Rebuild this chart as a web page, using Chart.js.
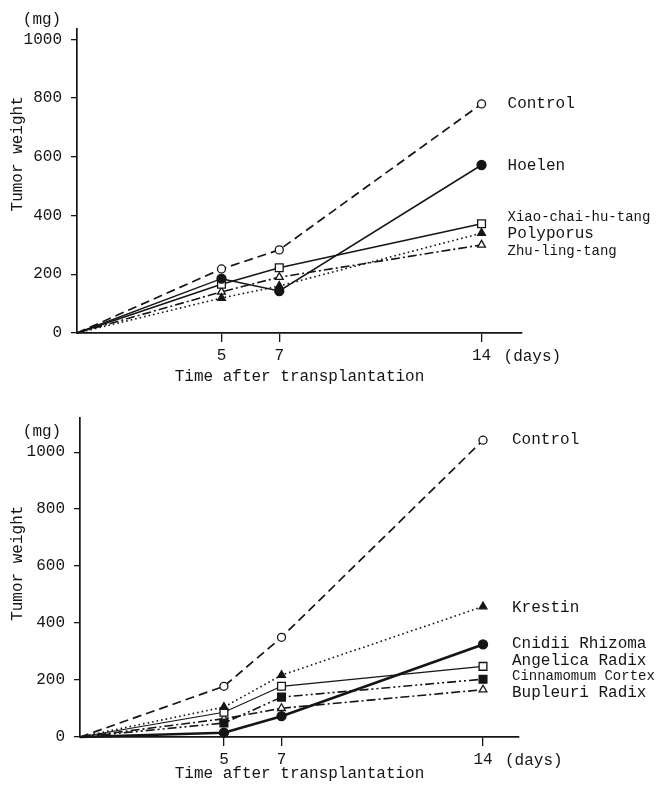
<!DOCTYPE html>
<html>
<head>
<meta charset="utf-8">
<script src="https://cdn.jsdelivr.net/npm/chart.js@4.4.1/dist/chart.umd.min.js"></script>
<style>
  body { margin: 0; background: #fff; }
  canvas { position: absolute; left: 0; }
</style>
</head>
<body>
<canvas id="upper" width="657" height="395" style="top:0"></canvas>
<canvas id="lower" width="657" height="394" style="top:395px"></canvas>
<script>
// days after transplantation
const days = [0, 5, 7, 14];
const xTicks = [5, 7, 14];
const yTicks = [0, 200, 400, 600, 800, 1000];

// upper panel (mg)
const upperNames = ['Control', 'Hoelen', 'Xiao-chai-hu-tang', 'Polyporus', 'Zhu-ling-tang'];
const upperControl = [0, 218, 283, 780];
const upperHoelen = [0, 185, 143, 572];
const upperXiao = [0, 166, 222, 372];
const upperPolyporus = [0, 119, 160, 340];
const upperZhu = [0, 140, 190, 300];

// lower panel (mg)
const lowerNames = ['Control', 'Krestin', 'Cnidii Rhizoma', 'Angelica Radix', 'Cinnamomum Cortex', 'Bupleuri Radix'];
const lowerControl = [0, 178, 350, 1042];
const lowerKrestin = [0, 105, 217, 458];
const lowerCnidii = [0, 15, 73, 325];
const lowerAngelica = [0, 87, 178, 248];
const lowerCinnamomum = [0, 49, 140, 203];
const lowerBupleuri = [0, 64, 101, 166];

const FONT = '"Liberation Mono", "DejaVu Sans Mono", monospace';
const INK = '#151515';

// line looks
const DASH = [9, 5];
const DOT = [1.6, 3];
const DASHDOT = [9, 3, 2, 3];
const DASHDOTDOT = [9, 3, 2, 3, 2, 3];

function series(label, vals, o) {
  return {
    label: label,
    data: days.map((d, i) => ({ x: d, y: vals[i] })),
    borderColor: INK,
    borderWidth: o.w || 1.5,
    borderDash: o.dash || [],
    pointStyle: o.shape,
    pointRadius: ctx => ctx.dataIndex === 0 ? 0 : (o.r || 4.5),
    pointBackgroundColor: o.filled ? INK : '#fff',
    pointBorderColor: INK,
    pointBorderWidth: 1.3,
    tension: 0,
    clip: false
  };
}

const notes = {
  id: 'notes',
  afterDraw(chart, args, opts) {
    const { ctx, scales: { x, y } } = chart;
    ctx.save();
    ctx.fillStyle = INK;
    ctx.textBaseline = 'middle';
    ctx.textAlign = 'left';
    opts.names.forEach((n, i) => {
      ctx.font = opts.sizes[i] + 'px ' + FONT;
      ctx.fillText(n, x.getPixelForValue(14) + opts.dx, y.getPixelForValue(opts.ys[i]));
    });
    ctx.font = '16px ' + FONT;
    ctx.fillText('(days)', x.getPixelForValue(14) + 22, x.top + 24);
    ctx.textAlign = 'center';
    ctx.fillText('(mg)', 42, y.getPixelForValue(1000) - 20);
    ctx.translate(18, y.getPixelForValue(610));
    ctx.rotate(-Math.PI / 2);
    ctx.fillText('Tumor weight', 0, 0);
    ctx.restore();
  }
};

function makeChart(id, datasets, lay, labelOpts) {
  return new Chart(document.getElementById(id), {
    type: 'line',
    data: { datasets: datasets },
    plugins: [notes],
    options: {
      responsive: false,
      animation: false,
      layout: { padding: { left: 0, right: lay.right, top: lay.top, bottom: 0 } },
      plugins: {
        legend: { display: false },
        tooltip: { enabled: false },
        notes: labelOpts
      },
      scales: {
        x: {
          type: 'linear',
          min: 0,
          max: lay.xmax,
          afterBuildTicks: s => { s.ticks = xTicks.map(v => ({ value: v })); },
          afterFit: s => { s.height = lay.xh; },
          ticks: { color: INK, font: { family: FONT, size: 16 }, padding: 4, maxRotation: 0,
                   callback: v => String(v) },
          grid: { drawOnChartArea: false, drawTicks: true, tickLength: 9, color: INK, lineWidth: 1.3 },
          border: { display: true, color: INK, width: 1.7 },
          title: { display: true, text: 'Time after transplantation', color: INK,
                   font: { family: FONT, size: 16 }, padding: { top: 0, bottom: lay.tb } }
        },
        y: {
          min: 0,
          max: lay.ymax,
          afterBuildTicks: s => { s.ticks = yTicks.map(v => ({ value: v })); },
          afterFit: s => { s.width = lay.left; },
          ticks: { color: INK, font: { family: FONT, size: 16 }, padding: 9,
                   callback: v => String(v) },
          grid: { drawOnChartArea: false, drawTicks: true, tickLength: 6, color: INK, lineWidth: 1.3 },
          border: { display: true, color: INK, width: 1.7 }
        }
      }
    }
  });
}

makeChart('upper', [
  series('Control', upperControl, { w: 1.7, dash: DASH, shape: 'circle', r: 4 }),
  series('Hoelen', upperHoelen, { shape: 'circle', filled: true, r: 4.5 }),
  series('Xiao-chai-hu-tang', upperXiao, { shape: 'rect', r: 5.5 }),
  series('Polyporus', upperPolyporus, { w: 1.6, dash: DOT, shape: 'triangle', filled: true, r: 4.5 }),
  series('Zhu-ling-tang', upperZhu, { w: 1.6, dash: DASHDOT, shape: 'triangle', r: 4.5 })
], { left: 77, right: 135, top: 29, xh: 62, xmax: 15.4, ymax: 1035, tb: 9 }, {
  names: upperNames, ys: [782, 571, 395, 337, 279], sizes: [16, 16, 14, 16, 14], dx: 26
});

makeChart('lower', [
  series('Control', lowerControl, { w: 1.7, dash: DASH, shape: 'circle', r: 4 }),
  series('Krestin', lowerKrestin, { w: 1.6, dash: DOT, shape: 'triangle', filled: true, r: 4.5 }),
  series('Cnidii Rhizoma', lowerCnidii, { w: 2.7, shape: 'circle', filled: true, r: 4.5 }),
  series('Angelica Radix', lowerAngelica, { w: 1.2, shape: 'rect', r: 5.5 }),
  series('Cinnamomum Cortex', lowerCinnamomum, { w: 1.6, dash: DASHDOTDOT, shape: 'rect', filled: true, r: 5.5 }),
  series('Bupleuri Radix', lowerBupleuri, { w: 1.6, dash: DASHDOT, shape: 'triangle', r: 4.5 })
], { left: 80, right: 138, top: 23, xh: 52, xmax: 15.25, ymax: 1120, tb: 6 }, {
  names: lowerNames, ys: [1042, 455, 329, 269, 213, 154], sizes: [16, 16, 16, 16, 14, 16], dx: 29
});
</script>
</body>
</html>
